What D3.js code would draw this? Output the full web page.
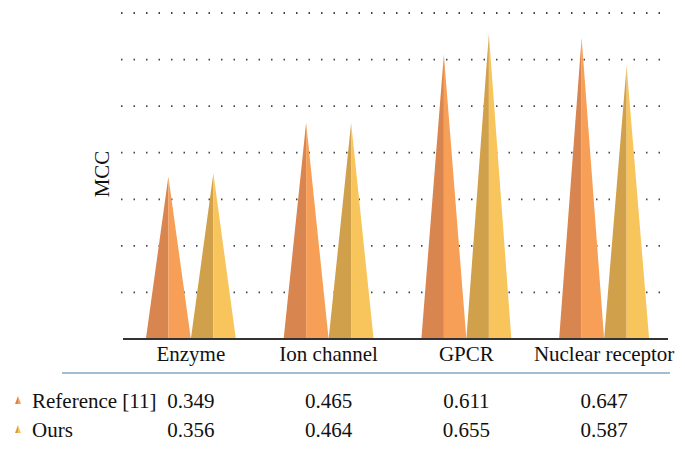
<!DOCTYPE html>
<html>
<head>
<meta charset="utf-8">
<script src="https://cdn.jsdelivr.net/npm/d3@7"></script>
<style>
  body { margin: 0; background: #fff; }
  text { font-family: "Liberation Serif", "Times New Roman", serif; fill: #111; }
</style>
</head>
<body>
<div id="chart"></div>
<script>
// data
const categories = ["Enzyme", "Ion channel", "GPCR", "Nuclear receptor"];
const seriesNames = ["Reference [11]", "Ours"];
const referenceValues = [0.349, 0.465, 0.611, 0.647];
const oursValues = [0.356, 0.464, 0.655, 0.587];
const gridTicks = [0.1, 0.2, 0.3, 0.4, 0.5, 0.6, 0.7];

const W = 685, H = 451;
const colors = {
  "Reference [11]": ["#d9854f", "#f89f57"],
  "Ours": ["#d1a04a", "#f7c55c"]
};

const svg = d3.select("#chart").append("svg")
  .attr("width", W).attr("height", H);

const y = d3.scaleLinear().domain([0, 0.7]).range([339, 13]);
const x0 = d3.scaleBand().domain(categories).range([122, 673]);
const pairW = 90;
const x1 = d3.scaleBand().domain(seriesNames)
  .range([(x0.bandwidth() - pairW) / 2, (x0.bandwidth() + pairW) / 2]);

// dotted grid
svg.append("g").selectAll("line").data(gridTicks).enter().append("line")
  .attr("x1", 121).attr("x2", 663)
  .attr("y1", d => y(d)).attr("y2", d => y(d))
  .attr("stroke", "#444").attr("stroke-width", 1.8)
  .attr("stroke-dasharray", "1.5,11")
  .attr("stroke-linecap", "butt");

// cones
const rows = [];
categories.forEach((c, i) => {
  rows.push({ cat: c, s: "Reference [11]", v: referenceValues[i] });
  rows.push({ cat: c, s: "Ours", v: oursValues[i] });
});

const cones = svg.append("g").selectAll("g").data(rows).enter().append("g");
cones.append("path")
  .attr("d", d => {
    const xl = x0(d.cat) + x1(d.s), w = x1.bandwidth(), b = y(0);
    return `M${xl},${b}L${xl + w / 2},${y(d.v)}L${xl + w / 2},${b}Z`;
  })
  .attr("fill", d => colors[d.s][0]);
cones.append("path")
  .attr("d", d => {
    const xl = x0(d.cat) + x1(d.s), w = x1.bandwidth(), b = y(0);
    return `M${xl + w / 2},${b}L${xl + w / 2},${y(d.v)}L${xl + w},${b}Z`;
  })
  .attr("fill", d => colors[d.s][1]);

// baseline
svg.append("line")
  .attr("x1", 123).attr("x2", 668)
  .attr("y1", y(0)).attr("y2", y(0))
  .attr("stroke", "#333").attr("stroke-width", 2);

// y label
svg.append("text")
  .attr("transform", "translate(109,174) rotate(-90)")
  .attr("text-anchor", "middle")
  .style("font-size", "21px")
  .text("MCC");

// category labels
svg.append("g").selectAll("text").data(categories).enter().append("text")
  .attr("x", d => x0(d) + x0.bandwidth() / 2)
  .attr("y", 361)
  .attr("text-anchor", "middle")
  .style("font-size", "21px")
  .text(d => d);

svg.append("line")
  .attr("x1", 62).attr("x2", 670)
  .attr("y1", 373).attr("y2", 373)
  .attr("stroke", "#7fa9c8").attr("stroke-width", 1.5);

// data table
const table = [
  { name: "Reference [11]", vals: referenceValues, yb: 408 },
  { name: "Ours", vals: oursValues, yb: 437 }
];
const tr = svg.append("g").selectAll("g").data(table).enter().append("g");
tr.append("path")
  .attr("d", d => `M15,${d.yb - 4}L18,${d.yb - 12}L18,${d.yb - 4}Z`)
  .attr("fill", d => colors[d.name][0]);
tr.append("path")
  .attr("d", d => `M18,${d.yb - 4}L18,${d.yb - 12}L21,${d.yb - 4}Z`)
  .attr("fill", d => colors[d.name][1]);
tr.append("text")
  .attr("x", 32).attr("y", d => d.yb)
  .style("font-size", "21px")
  .text(d => d.name);
tr.selectAll("text.v").data(d => d.vals.map((v, i) => ({ v, i, yb: d.yb })))
  .enter().append("text").attr("class", "v")
  .attr("x", d => x0(categories[d.i]) + x0.bandwidth() / 2)
  .attr("y", d => d.yb)
  .attr("text-anchor", "middle")
  .style("font-size", "21px")
  .text(d => d3.format(".3f")(d.v));
</script>
</body>
</html>
